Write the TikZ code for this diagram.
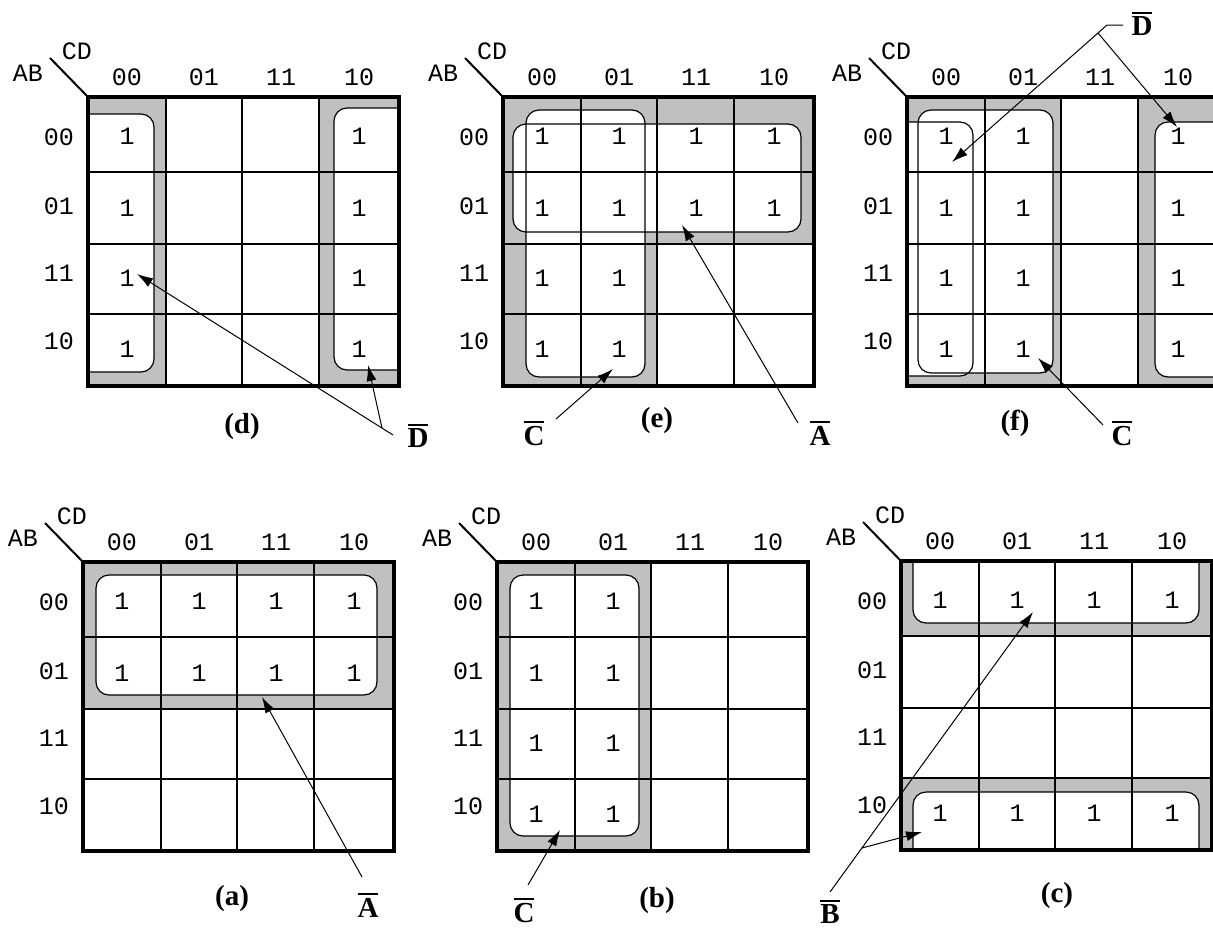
\documentclass[tikz,border=0pt]{standalone}
\usepackage{fontspec}
\setmainfont{Liberation Serif}
\newfontfamily\kmfont{Liberation Mono}
\usetikzlibrary{arrows.meta}
\definecolor{kgray}{RGB}{192,192,192}
\newcommand\ovbar[1]{\vbox{\hrule height 2pt\kern 2.5pt\hbox{#1}}}
\newcommand\kmframe[1]{%
  \draw[gridline] (77.5,0) -- (77.5,289) (154,0) -- (154,289) (231,0) -- (231,289)
        (0,75) -- (311,75) (0,147) -- (311,147) (0,217) -- (311,217);
  \draw[frameline] (0,0) rectangle (311,289);
  \coordinate (#1corner) at (0,0);
  \coordinate (#1diag) at (-38,-39);
  \draw[line width=2pt] (#1diag) -- (#1corner);
  \node[kmtext] (#1AB) at (-60,-24) {AB};
  \node[kmtext] (#1CD) at (-11,-46) {CD};
  \node[kmtext] (#1c0) at (39,-20) {00};
  \node[kmtext] (#1c1) at (116,-20) {01};
  \node[kmtext] (#1c2) at (193,-20) {11};
  \node[kmtext] (#1c3) at (271,-20) {10};
  \node[kmtext] (#1r0) at (-29,40) {00};
  \node[kmtext] (#1r1) at (-29,109) {01};
  \node[kmtext] (#1r2) at (-29,176) {11};
  \node[kmtext] (#1r3) at (-29,244) {10};
}
% #1 name, #2 column index, #3 row index
\newcommand\kmone[3]{%
  \pgfmathsetmacro\kx{{39,116,193,271}[#2]}%
  \pgfmathsetmacro\ky{{39,111,181,252}[#3]}%
  \node[kmtext] (#1) at (\kx,\ky) {1};
}
\tikzset{
  kfill/.style={fill=kgray},
  loopfill/.style={fill=white, rounded corners=13pt},
  loopline/.style={draw=black, line width=1.2pt, rounded corners=13pt},
  gridline/.style={line width=2pt},
  frameline/.style={line width=3.5pt},
  kmtext/.style={font=\kmfont\fontsize{25}{29}\selectfont, inner sep=0pt},
  lbl/.style={font=\bfseries\fontsize{29}{34}\selectfont, inner sep=0pt, anchor=base},
  ptr/.style={line width=1pt, -{Latex[length=16pt,width=10pt]}},
  lead/.style={line width=1pt},
}
\begin{document}
\begin{tikzpicture}[x=1pt,y=-1pt]
\clip (0,0) rectangle (1213,927);
\fill[white] (0,0) rectangle (1213,927);

% ---------------- (d) ----------------
\begin{scope}[shift={(88,97)}]
  \fill[kfill] (0,0) rectangle (77.5,289) (231,0) rectangle (311,289);
  \begin{scope}
    \clip (0,0) rectangle (311,289);
    \filldraw[loopfill,loopline] (-20,17) rectangle (66,275);
    \filldraw[loopfill,loopline] (246,11) rectangle (330,273);
  \end{scope}
  \kmframe{d}
  \foreach \r in {0,1,2,3} {\kmone{d0\r}{0}{\r} \kmone{d3\r}{3}{\r}}
\end{scope}

% ---------------- (e) ----------------
\begin{scope}[shift={(503,97)}]
  \fill[kfill] (0,0) rectangle (311,147) (0,0) rectangle (154,289);
  \fill[loopfill] (10,27) rectangle (298,135);
  \fill[loopfill] (23,13) rectangle (142,280);
  \draw[loopline] (10,27) rectangle (298,135);
  \draw[loopline] (23,13) rectangle (142,280);
  \kmframe{e}
  \foreach \c in {0,1,2,3} {\kmone{e\c0}{\c}{0} \kmone{e\c1}{\c}{1}}
  \foreach \c in {0,1} {\kmone{e\c2}{\c}{2} \kmone{e\c3}{\c}{3}}
\end{scope}

% ---------------- (f) ----------------
\begin{scope}[shift={(907,97)}]
  \fill[kfill] (0,0) rectangle (154,289) (231,0) rectangle (311,289);
  \begin{scope}
    \clip (0,0) rectangle (311,289);
    \fill[loopfill] (-20,25) rectangle (66,279);
    \fill[loopfill] (11,13) rectangle (146,276);
    \fill[loopfill] (248,25) rectangle (330,280);
    \draw[loopline] (-20,25) rectangle (66,279);
    \draw[loopline] (11,13) rectangle (146,276);
    \draw[loopline] (248,25) rectangle (330,280);
  \end{scope}
  \kmframe{f}
  \foreach \r in {0,1,2,3} {\kmone{f0\r}{0}{\r} \kmone{f1\r}{1}{\r} \kmone{f3\r}{3}{\r}}
\end{scope}

% ---------------- (a) ----------------
\begin{scope}[shift={(83,562)}]
  \fill[kfill] (0,0) rectangle (311,147);
  \filldraw[loopfill,loopline] (13,13) rectangle (294,133);
  \kmframe{a}
  \foreach \c in {0,1,2,3} {\kmone{a\c0}{\c}{0} \kmone{a\c1}{\c}{1}}
\end{scope}

% ---------------- (b) ----------------
\begin{scope}[shift={(497,562)}]
  \fill[kfill] (0,0) rectangle (154,289);
  \filldraw[loopfill,loopline] (13,13) rectangle (142,274);
  \kmframe{b}
  \foreach \r in {0,1,2,3} {\kmone{b0\r}{0}{\r} \kmone{b1\r}{1}{\r}}
\end{scope}

% ---------------- (c) ----------------
\begin{scope}[shift={(901,561)}]
  \fill[kfill] (0,0) rectangle (311,75) (0,217) rectangle (311,289);
  \begin{scope}
    \clip (0,0) rectangle (311,289);
    \filldraw[loopfill,loopline] (12,-20) rectangle (298,62);
    \filldraw[loopfill,loopline] (12,231) rectangle (298,310);
  \end{scope}
  \kmframe{c}
  \foreach \c in {0,1,2,3} {\kmone{c\c0}{\c}{0} \kmone{c\c3}{\c}{3}}
\end{scope}

% ---------------- captions ----------------
\node[lbl] (capd) at (242,433) {(d)};
\node[lbl] (cape) at (657,427) {(e)};
\node[lbl] (capf) at (1015,430) {(f)};
\node[lbl] (capa) at (232,905) {(a)};
\node[lbl] (capb) at (657,907) {(b)};
\node[lbl] (capc) at (1057,902) {(c)};

% ---------------- term labels ----------------
\node[lbl] (Dd) at (418,447) {\ovbar{D}};
\node[lbl] (Ce) at (534,445) {\ovbar{C}};
\node[lbl] (Ae) at (820,445) {\ovbar{A}};
\node[lbl] (Df) at (1142,35) {\ovbar{D}};
\node[lbl] (Cf) at (1122,445) {\ovbar{C}};
\node[lbl] (Aa) at (368,917) {\ovbar{A}};
\node[lbl] (Cb) at (524,922) {\ovbar{C}};
\node[lbl] (Bc) at (830,923) {\ovbar{B}};

% ---------------- pointers ----------------
% (d)
\coordinate (ds) at (393,435);
\coordinate (dj) at (382,428);
\coordinate (dt1) at (137,274);
\coordinate (dt2) at (368,365);
\draw[ptr] (ds) -- (dt1);
\draw[ptr] (dj) -- (dt2);
% (e)
\coordinate (ecs) at (556,419);
\coordinate (ect) at (613,369);
\draw[ptr] (ecs) -- (ect);
\coordinate (eas) at (798,423);
\coordinate (eat) at (682,225);
\draw[ptr] (eas) -- (eat);
% (f)
\coordinate (fb1) at (1123,25);
\coordinate (fb2) at (1107,25);
\coordinate (fj) at (1098,33);
\coordinate (ft1) at (952,162);
\coordinate (ft2) at (1177,127);
\draw[lead] (fb1) -- (fb2) -- (fj);
\draw[ptr] (fj) -- (ft1);
\draw[ptr] (fj) -- (ft2);
\coordinate (fcs) at (1103,425);
\coordinate (fct) at (1038,358);
\draw[ptr] (fcs) -- (fct);
% (a)
\coordinate (aas) at (362,877);
\coordinate (aat) at (262,697);
\draw[ptr] (aas) -- (aat);
% (b)
\coordinate (bcs) at (528,885);
\coordinate (bct) at (560,830);
\draw[ptr] (bcs) -- (bct);
% (c)
\coordinate (cbs) at (830,892);
\coordinate (cbj) at (862,848);
\coordinate (cbt1) at (1033,612);
\coordinate (cbt2) at (922,832);
\draw[ptr] (cbs) -- (cbt1);
\draw[ptr] (cbj) -- (cbt2);
\end{tikzpicture}
\end{document}
